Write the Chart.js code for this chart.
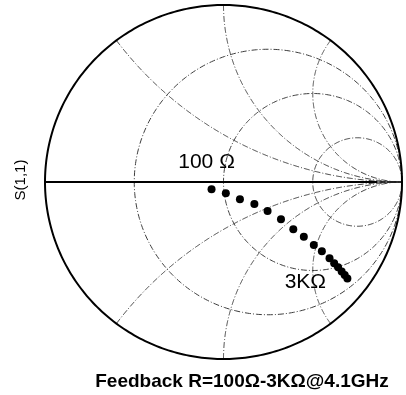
<!DOCTYPE html>
<html>
<head>
<meta charset="utf-8">
<script src="https://cdn.jsdelivr.net/npm/chart.js@4/dist/chart.umd.min.js"></script>
<style>
  html, body { margin: 0; padding: 0; background: #fff; }
  canvas { display: block; }
</style>
</head>
<body>
<canvas id="smith" width="406" height="395"></canvas>
<script>
// S(1,1) reflection coefficient while the feedback resistor is swept (real / imaginary parts)
const gammaRe = [-0.067, 0.013, 0.092, 0.173, 0.247, 0.322, 0.391, 0.450, 0.506, 0.551, 0.594, 0.620, 0.642, 0.662, 0.679, 0.694];
const gammaIm = [-0.041, -0.064, -0.098, -0.124, -0.164, -0.211, -0.267, -0.309, -0.356, -0.391, -0.431, -0.459, -0.482, -0.505, -0.525, -0.545];

// Labels for the first and last resistor values of the sweep
const endLabels = ['100 Ω', '3KΩ'];

// Smith chart grid: normalised resistance circles and reactance arcs
const resistanceCircles = [1 / 3, 1, 3];
const reactanceArcs = [0.5, 1, 2];

const axisTitle = 'S(1,1)';
const caption = 'Feedback R=100Ω-3KΩ@4.1GHz';

const points = gammaRe.map((re, i) => ({ x: re, y: gammaIm[i] }));

function strokePath(ctx, xs, ys, pts) {
  ctx.beginPath();
  pts.forEach((p, i) => {
    const px = xs.getPixelForValue(p[0]);
    const py = ys.getPixelForValue(p[1]);
    if (i === 0) ctx.moveTo(px, py); else ctx.lineTo(px, py);
  });
  ctx.stroke();
}

const smithGrid = {
  id: 'smithGrid',
  beforeDatasetsDraw(chart) {
    const { ctx, scales: { x, y } } = chart;
    ctx.save();
    ctx.strokeStyle = '#3c3c3c';
    ctx.lineWidth = 1;
    ctx.setLineDash([6, 2, 1, 2]);

    // constant-resistance circles
    resistanceCircles.forEach(r => {
      const c = r / (1 + r), rad = 1 / (1 + r);
      const pts = [];
      for (let i = 0; i <= 360; i++) {
        const a = (i / 360) * Math.PI * 2;
        pts.push([c + rad * Math.cos(a), rad * Math.sin(a)]);
      }
      strokePath(ctx, x, y, pts);
    });

    // constant-reactance arcs, inductive and capacitive
    reactanceArcs.forEach(xv => {
      [xv, -xv].forEach(s => {
        const pts = [];
        const n = 400;
        for (let i = 0; i < n; i++) {
          const rr = Math.tan((i / n) * (Math.PI / 2));
          const d = (rr + 1) * (rr + 1) + s * s;
          pts.push([(rr * rr + s * s - 1) / d, (2 * s) / d]);
        }
        pts.push([1, 0]);
        strokePath(ctx, x, y, pts);
      });
    });

    // outer boundary |Γ| = 1 and the real axis
    ctx.setLineDash([]);
    ctx.strokeStyle = '#000';
    ctx.lineWidth = 2;
    const rim = [];
    for (let i = 0; i <= 360; i++) {
      const a = (i / 360) * Math.PI * 2;
      rim.push([Math.cos(a), Math.sin(a)]);
    }
    strokePath(ctx, x, y, rim);
    strokePath(ctx, x, y, [[-1, 0], [0.86, 0]]);
    ctx.lineWidth = 1;
    strokePath(ctx, x, y, [[0.86, 0], [1, 0]]);
    ctx.restore();
  },
  afterDatasetsDraw(chart) {
    const { ctx, scales: { x, y } } = chart;
    const first = points[0], last = points[points.length - 1];
    ctx.save();
    ctx.fillStyle = '#000';
    ctx.textAlign = 'center';
    ctx.textBaseline = 'middle';
    ctx.font = '21px "Liberation Sans", Arial, sans-serif';
    ctx.fillText(endLabels[0], x.getPixelForValue(first.x) - 5, y.getPixelForValue(first.y) - 27);
    ctx.fillText(endLabels[1], x.getPixelForValue(last.x) - 42, y.getPixelForValue(last.y) + 4);
    ctx.restore();
  },
  afterDraw(chart) {
    const { ctx, chartArea } = chart;
    ctx.save();
    ctx.fillStyle = '#000';
    ctx.textAlign = 'center';
    ctx.textBaseline = 'middle';
    // vertical axis title
    ctx.translate(21, (chartArea.top + chartArea.bottom) / 2 - 2);
    ctx.rotate(-Math.PI / 2);
    ctx.font = '15px "Liberation Sans", Arial, sans-serif';
    ctx.fillText(axisTitle, 0, 0);
    ctx.restore();

    ctx.save();
    ctx.fillStyle = '#000';
    ctx.textAlign = 'center';
    ctx.textBaseline = 'middle';
    ctx.font = 'bold 19px "Liberation Sans", Arial, sans-serif';
    ctx.fillText(caption, 242, chartArea.bottom + 23);
    ctx.restore();
  }
};

new Chart(document.getElementById('smith'), {
  type: 'scatter',
  data: {
    datasets: [{
      label: axisTitle,
      data: points,
      showLine: false,
      pointRadius: 4,
      pointBackgroundColor: '#000',
      pointBorderColor: '#000',
      pointBorderWidth: 0
    }]
  },
  options: {
    responsive: false,
    animation: false,
    events: [],
    layout: { padding: { left: 45, right: 3, top: 5, bottom: 36 } },
    scales: {
      x: { type: 'linear', min: -1, max: 1, display: false },
      y: { type: 'linear', min: -1, max: 1, display: false }
    },
    plugins: {
      legend: { display: false },
      tooltip: { enabled: false },
      title: { display: false }
    }
  },
  plugins: [smithGrid]
});
</script>
</body>
</html>
